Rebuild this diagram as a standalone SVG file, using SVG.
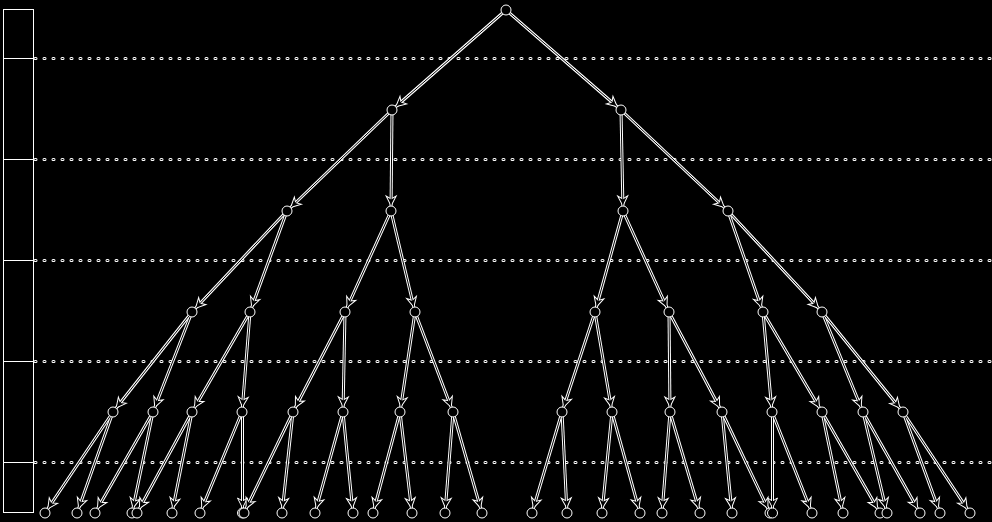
<svg xmlns="http://www.w3.org/2000/svg" xmlns:xlink="http://www.w3.org/1999/xlink" width="992" height="522" viewBox="0 0 992 522">
<style>
.nd{fill:#000;stroke:#fff;stroke-width:1}
</style>
<defs>
<marker id="arr" markerUnits="userSpaceOnUse" markerWidth="12" markerHeight="12" refX="5" refY="0" orient="auto" overflow="visible">
<path d="M0,0 L-10,-5 L-7,0 L-10,5 Z" fill="#000" stroke="#fff" stroke-width="1"/>
</marker>
</defs>
<rect width="992" height="522" fill="#000"/>
<g id="scale" fill="none" stroke="#fff" stroke-width="1">
<rect x="3.5" y="9.5" width="30" height="503"/>
<path d="M3.5,58.5H33.5M3.5,159.5H33.5M3.5,260.5H33.5M3.5,361.5H33.5M3.5,462.5H33.5"/>
</g>
<g id="levels" fill="none">
<g stroke="#fff" stroke-width="3" stroke-linecap="round" stroke-dasharray="1 8">
<g id="dashlines">
<line x1="35" y1="58.5" x2="992" y2="58.5"/>
<line x1="35" y1="159.5" x2="992" y2="159.5"/>
<line x1="35" y1="260.5" x2="992" y2="260.5"/>
<line x1="35" y1="361.5" x2="992" y2="361.5"/>
<line x1="35" y1="462.5" x2="992" y2="462.5"/>
</g>
</g>
<use xlink:href="#dashlines" href="#dashlines" stroke="#000" stroke-width="1" stroke-linecap="round" stroke-dasharray="1 8"/>
</g>
<g id="connectors" fill="none">
<g stroke="#fff" stroke-width="3" marker-end="url(#arr)">
<g id="edges">
<line x1="506" y1="10" x2="392" y2="110"/>
<line x1="506" y1="10" x2="621" y2="110"/>
<line x1="392" y1="110" x2="287" y2="211"/>
<line x1="392" y1="110" x2="391" y2="211"/>
<line x1="621" y1="110" x2="623" y2="211"/>
<line x1="621" y1="110" x2="728" y2="211"/>
<line x1="287" y1="211" x2="192" y2="312"/>
<line x1="287" y1="211" x2="250" y2="312"/>
<line x1="391" y1="211" x2="345" y2="312"/>
<line x1="391" y1="211" x2="415" y2="312"/>
<line x1="623" y1="211" x2="595" y2="312"/>
<line x1="623" y1="211" x2="669" y2="312"/>
<line x1="728" y1="211" x2="763" y2="312"/>
<line x1="728" y1="211" x2="822" y2="312"/>
<line x1="192" y1="312" x2="113" y2="412"/>
<line x1="192" y1="312" x2="153" y2="412"/>
<line x1="250" y1="312" x2="192" y2="412"/>
<line x1="250" y1="312" x2="242" y2="412"/>
<line x1="345" y1="312" x2="293" y2="412"/>
<line x1="345" y1="312" x2="343" y2="412"/>
<line x1="415" y1="312" x2="400" y2="412"/>
<line x1="415" y1="312" x2="453" y2="412"/>
<line x1="595" y1="312" x2="562" y2="412"/>
<line x1="595" y1="312" x2="612" y2="412"/>
<line x1="669" y1="312" x2="670" y2="412"/>
<line x1="669" y1="312" x2="722" y2="412"/>
<line x1="763" y1="312" x2="772" y2="412"/>
<line x1="763" y1="312" x2="822" y2="412"/>
<line x1="822" y1="312" x2="863" y2="412"/>
<line x1="822" y1="312" x2="903" y2="412"/>
<line x1="113" y1="412" x2="45" y2="513"/>
<line x1="113" y1="412" x2="77" y2="513"/>
<line x1="153" y1="412" x2="95" y2="513"/>
<line x1="153" y1="412" x2="132" y2="513"/>
<line x1="192" y1="412" x2="137" y2="513"/>
<line x1="192" y1="412" x2="172" y2="513"/>
<line x1="242" y1="412" x2="200" y2="513"/>
<line x1="242.5" y1="412" x2="242.5" y2="513"/>
<line x1="293" y1="412" x2="244" y2="513"/>
<line x1="293" y1="412" x2="282" y2="513"/>
<line x1="343" y1="412" x2="315" y2="513"/>
<line x1="343" y1="412" x2="353" y2="513"/>
<line x1="400" y1="412" x2="373" y2="513"/>
<line x1="400" y1="412" x2="412" y2="513"/>
<line x1="453" y1="412" x2="445" y2="513"/>
<line x1="453" y1="412" x2="482" y2="513"/>
<line x1="562" y1="412" x2="532" y2="513"/>
<line x1="562" y1="412" x2="567" y2="513"/>
<line x1="612" y1="412" x2="602" y2="513"/>
<line x1="612" y1="412" x2="640" y2="513"/>
<line x1="670" y1="412" x2="662" y2="513"/>
<line x1="670" y1="412" x2="700" y2="513"/>
<line x1="722" y1="412" x2="732" y2="513"/>
<line x1="722" y1="412" x2="770" y2="513"/>
<line x1="772.5" y1="412" x2="772.5" y2="513"/>
<line x1="772" y1="412" x2="812" y2="513"/>
<line x1="822" y1="412" x2="843" y2="513"/>
<line x1="822" y1="412" x2="880" y2="513"/>
<line x1="863" y1="412" x2="887" y2="513"/>
<line x1="863" y1="412" x2="920" y2="513"/>
<line x1="903" y1="412" x2="940" y2="513"/>
<line x1="903" y1="412" x2="970" y2="513"/>
</g>
</g>
<use xlink:href="#edges" href="#edges" stroke="#000" stroke-width="1"/>
</g>
<g id="nodes">
<g id="n0"><circle class="nd" cx="506" cy="10" r="5"/></g>
<g id="n1"><circle class="nd" cx="392" cy="110" r="5"/></g>
<g id="n2"><circle class="nd" cx="621" cy="110" r="5"/></g>
<g id="n3"><circle class="nd" cx="287" cy="211" r="5"/></g>
<g id="n4"><circle class="nd" cx="391" cy="211" r="5"/></g>
<g id="n5"><circle class="nd" cx="623" cy="211" r="5"/></g>
<g id="n6"><circle class="nd" cx="728" cy="211" r="5"/></g>
<g id="n7"><circle class="nd" cx="192" cy="312" r="5"/></g>
<g id="n8"><circle class="nd" cx="250" cy="312" r="5"/></g>
<g id="n9"><circle class="nd" cx="345" cy="312" r="5"/></g>
<g id="n10"><circle class="nd" cx="415" cy="312" r="5"/></g>
<g id="n11"><circle class="nd" cx="595" cy="312" r="5"/></g>
<g id="n12"><circle class="nd" cx="669" cy="312" r="5"/></g>
<g id="n13"><circle class="nd" cx="763" cy="312" r="5"/></g>
<g id="n14"><circle class="nd" cx="822" cy="312" r="5"/></g>
<g id="n15"><circle class="nd" cx="113" cy="412" r="5"/></g>
<g id="n16"><circle class="nd" cx="153" cy="412" r="5"/></g>
<g id="n17"><circle class="nd" cx="192" cy="412" r="5"/></g>
<g id="n18"><circle class="nd" cx="242" cy="412" r="5"/></g>
<g id="n19"><circle class="nd" cx="293" cy="412" r="5"/></g>
<g id="n20"><circle class="nd" cx="343" cy="412" r="5"/></g>
<g id="n21"><circle class="nd" cx="400" cy="412" r="5"/></g>
<g id="n22"><circle class="nd" cx="453" cy="412" r="5"/></g>
<g id="n23"><circle class="nd" cx="562" cy="412" r="5"/></g>
<g id="n24"><circle class="nd" cx="612" cy="412" r="5"/></g>
<g id="n25"><circle class="nd" cx="670" cy="412" r="5"/></g>
<g id="n26"><circle class="nd" cx="722" cy="412" r="5"/></g>
<g id="n27"><circle class="nd" cx="772" cy="412" r="5"/></g>
<g id="n28"><circle class="nd" cx="822" cy="412" r="5"/></g>
<g id="n29"><circle class="nd" cx="863" cy="412" r="5"/></g>
<g id="n30"><circle class="nd" cx="903" cy="412" r="5"/></g>
<g id="n31"><circle class="nd" cx="45" cy="513" r="5"/></g>
<g id="n32"><circle class="nd" cx="77" cy="513" r="5"/></g>
<g id="n33"><circle class="nd" cx="95" cy="513" r="5"/></g>
<g id="n34"><circle class="nd" cx="132" cy="513" r="5"/></g>
<g id="n35"><circle class="nd" cx="137" cy="513" r="5"/></g>
<g id="n36"><circle class="nd" cx="172" cy="513" r="5"/></g>
<g id="n37"><circle class="nd" cx="200" cy="513" r="5"/></g>
<g id="n38"><circle class="nd" cx="242.5" cy="513" r="5"/></g>
<g id="n39"><circle class="nd" cx="244" cy="513" r="5"/></g>
<g id="n40"><circle class="nd" cx="282" cy="513" r="5"/></g>
<g id="n41"><circle class="nd" cx="315" cy="513" r="5"/></g>
<g id="n42"><circle class="nd" cx="353" cy="513" r="5"/></g>
<g id="n43"><circle class="nd" cx="373" cy="513" r="5"/></g>
<g id="n44"><circle class="nd" cx="412" cy="513" r="5"/></g>
<g id="n45"><circle class="nd" cx="445" cy="513" r="5"/></g>
<g id="n46"><circle class="nd" cx="482" cy="513" r="5"/></g>
<g id="n47"><circle class="nd" cx="532" cy="513" r="5"/></g>
<g id="n48"><circle class="nd" cx="567" cy="513" r="5"/></g>
<g id="n49"><circle class="nd" cx="602" cy="513" r="5"/></g>
<g id="n50"><circle class="nd" cx="640" cy="513" r="5"/></g>
<g id="n51"><circle class="nd" cx="662" cy="513" r="5"/></g>
<g id="n52"><circle class="nd" cx="700" cy="513" r="5"/></g>
<g id="n53"><circle class="nd" cx="732" cy="513" r="5"/></g>
<g id="n54"><circle class="nd" cx="770" cy="513" r="5"/></g>
<g id="n55"><circle class="nd" cx="772.5" cy="513" r="5"/></g>
<g id="n56"><circle class="nd" cx="812" cy="513" r="5"/></g>
<g id="n57"><circle class="nd" cx="843" cy="513" r="5"/></g>
<g id="n58"><circle class="nd" cx="880" cy="513" r="5"/></g>
<g id="n59"><circle class="nd" cx="887" cy="513" r="5"/></g>
<g id="n60"><circle class="nd" cx="920" cy="513" r="5"/></g>
<g id="n61"><circle class="nd" cx="940" cy="513" r="5"/></g>
<g id="n62"><circle class="nd" cx="970" cy="513" r="5"/></g>
</g>
</svg>
